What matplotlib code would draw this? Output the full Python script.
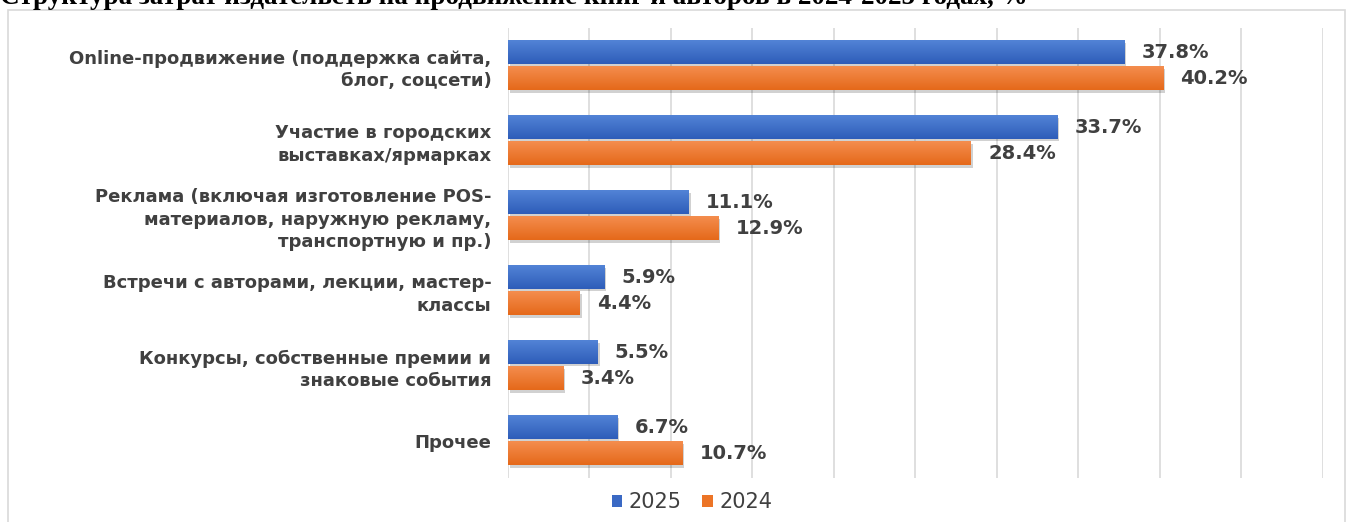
import numpy as np
import matplotlib
matplotlib.use('Agg')
import matplotlib.pyplot as plt
from matplotlib.patches import Rectangle
from matplotlib.colors import LinearSegmentedColormap

# categories, top to bottom
categories = [
    'Online-продвижение (поддержка сайта,\nблог, соцсети)',
    'Участие в городских\nвыставках/ярмарках',
    'Реклама (включая изготовление POS-\nматериалов, наружную рекламу,\nтранспортную и пр.)',
    'Встречи с авторами, лекции, мастер-\nклассы',
    'Конкурсы, собственные премии и\nзнаковые события',
    'Прочее',
]
values_2025 = [37.8, 33.7, 11.1, 5.9, 5.5, 6.7]
values_2024 = [40.2, 28.4, 12.9, 4.4, 3.4, 10.7]
series_names = ['2025', '2024']

title = 'Структура затрат издательств на продвижение книг и авторов в 2024-2025 годах, %'

blue = '#3A69C4'
orange = '#EC7426'
text_gray = '#404040'

# gradient fills like the office chart (lighter top, darker bottom)
blue_cmap = LinearSegmentedColormap.from_list('b', ['#5283D6', '#2E5DB9'])
orange_cmap = LinearSegmentedColormap.from_list('o', ['#F48D4E', '#E5691A'])

plt.rcParams['font.family'] = ['DejaVu Sans']

fig = plt.figure(figsize=(13.55, 5.22), dpi=100)

# outer chart frame
fig.patches.append(Rectangle((8 / 1355, -0.05), 1337 / 1355, 1.05 - 10 / 522,
                             transform=fig.transFigure, fill=False,
                             edgecolor='#D9D9D9', linewidth=1.2))

# title, cut off at the top of the picture as in the source
fig.text(0.0, 1.0 - 4 / 522, title, ha='left', va='baseline', fontsize=19.5,
         fontweight='bold', family='Liberation Serif', color='black')

ax = fig.add_axes([508 / 1355, 1 - 478 / 522, 815 / 1355, 450 / 522])

y = np.arange(len(categories))
h = 0.31
off = 0.175
b1 = ax.barh(y - off, values_2025, height=h, color=blue, label=series_names[0], zorder=3)
b2 = ax.barh(y + off, values_2024, height=h, color=orange, label=series_names[1], zorder=3)

grad = np.linspace(0, 1, 50).reshape(-1, 1)
for bars, cmap in [(b1, blue_cmap), (b2, orange_cmap)]:
    for bar in bars:
        x0, y0 = bar.get_x(), bar.get_y()
        w, bh = bar.get_width(), bar.get_height()
        # soft shadow
        ax.add_patch(Rectangle((x0 + 0.12, y0 + 0.03), w, bh, color='#000000',
                               alpha=0.18, linewidth=0, zorder=2))
        ax.imshow(grad, cmap=cmap, aspect='auto', extent=(x0, x0 + w, y0 + bh, y0),
                  zorder=3.5, interpolation='bilinear')

for bars, vals in [(b1, values_2025), (b2, values_2024)]:
    for bar, v in zip(bars, vals):
        ax.text(v + 1.05, bar.get_y() + bar.get_height() / 2, f'{v:.1f}%',
                va='center', ha='left', fontsize=14, fontweight='bold', color=text_gray)

ax.set_xlim(0, 50)
ax.set_ylim(len(categories) - 0.5, -0.5)
ax.set_xticks(np.arange(0, 51, 5))
ax.set_xticklabels([])
ax.tick_params(axis='x', length=0)
ax.grid(axis='x', color='#D9D9D9', linewidth=1.2, zorder=0)
ax.set_yticks(y)
ax.set_yticklabels(categories, fontsize=13, fontweight='bold', color=text_gray,
                   linespacing=1.3)
ax.tick_params(axis='y', length=0, pad=12)
for s in ax.spines.values():
    s.set_visible(False)

ax.legend(loc='center', bbox_to_anchor=(692 / 1355, 1 - 502 / 522),
          bbox_transform=fig.transFigure, ncol=2, frameon=False,
          fontsize=15, handlelength=0.5, handleheight=0.5, handletextpad=0.3,
          columnspacing=1.0, labelcolor=text_gray)

fig.savefig('out.png', dpi=100)
